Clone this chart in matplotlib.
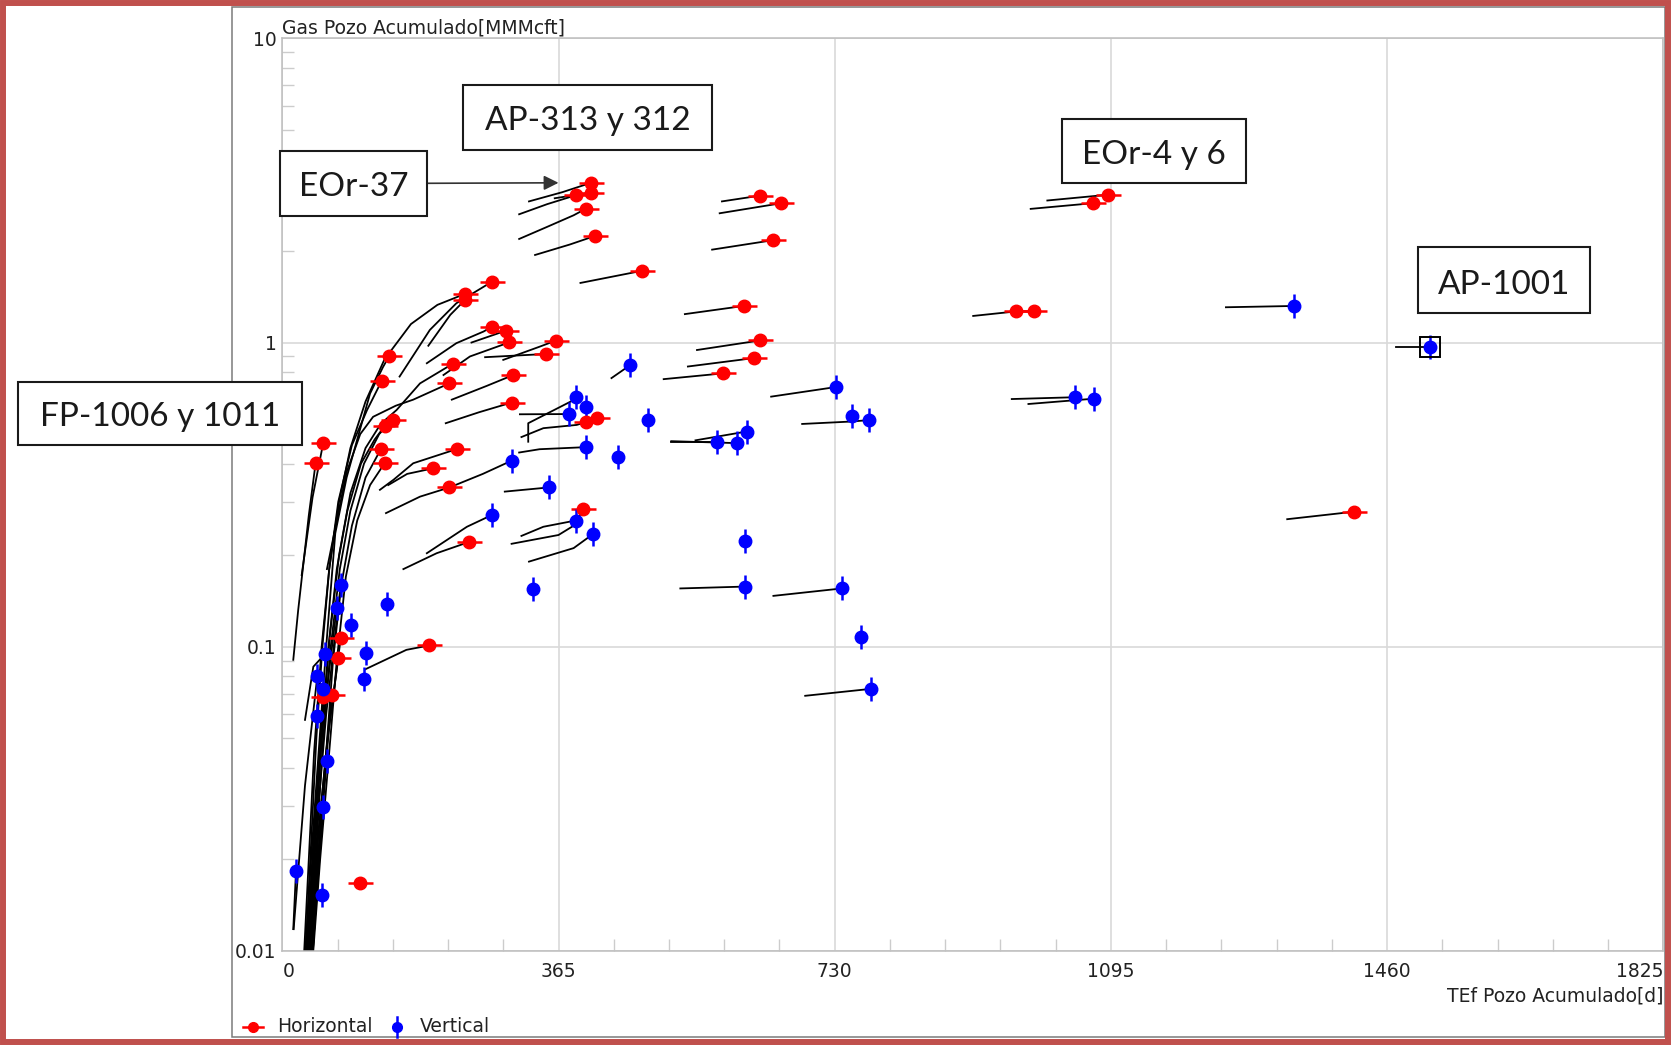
import matplotlib
matplotlib.use('Agg')
import matplotlib.pyplot as plt
from matplotlib.patches import Rectangle
from matplotlib.ticker import FixedLocator, LogLocator, NullFormatter

W, H = 1671, 1045

# end points of each well: TEf Pozo Acumulado [d] vs Gas Pozo Acumulado [MMMcft]
horiz_days = [407.8, 407.8, 388.0, 400.8, 413.1, 474.8, 276.6, 241.4, 241.4, 277.4,
              295.5, 300.0, 361.6, 348.4, 141.4, 225.1, 131.3, 220.6, 305.2, 303.1,
              145.9, 135.7, 54.2, 44.1, 130.4, 135.7, 231.2, 199.5, 220.6, 246.7,
              400.8, 415.4, 397.7, 194.2, 77.2, 74.0, 54.2, 65.3, 102.7, 631.4,
              659.3, 648.6, 610.7, 631.4, 623.3, 582.9, 1091.0, 1070.7, 970.1, 992.9,
              1416.8]
horiz_gas = [3.35, 3.11, 3.05, 2.75, 2.24, 1.72, 1.576, 1.445, 1.38, 1.128,
             1.094, 1.002, 1.015, 0.917, 0.904, 0.851, 0.748, 0.734, 0.782, 0.635,
             0.557, 0.533, 0.469, 0.403, 0.447, 0.403, 0.447, 0.386, 0.334, 0.221,
             0.547, 0.564, 0.283, 0.101, 0.1065, 0.0918, 0.0686, 0.0695, 0.0167, 3.04,
             2.87, 2.17, 1.32, 1.016, 0.889, 0.792, 3.06, 2.87, 1.266, 1.266,
             0.278]

vert_days = [387.6, 400.8, 379.2, 482.7, 574.0, 400.8, 444.0, 303.1, 352.4, 277.4,
             387.6, 410.9, 330.8, 77.2, 138.7, 71.9, 90.3, 110.6, 56.4, 107.9,
             46.3, 54.2, 46.3, 58.6, 54.2, 18.1, 52.0, 459.4, 731.5, 752.3,
             775.0, 613.7, 601.0, 611.2, 611.2, 739.6, 764.8, 777.5, 1047.4, 1073.3,
             1337.6, 1517.2]
vert_gas = [0.664, 0.616, 0.582, 0.557, 0.472, 0.453, 0.420, 0.409, 0.334, 0.2714,
            0.260, 0.235, 0.155, 0.160, 0.138, 0.1345, 0.1175, 0.0957, 0.0946, 0.0782,
            0.0802, 0.0726, 0.059, 0.0422, 0.0297, 0.0183, 0.0153, 0.842, 0.714, 0.573,
            0.556, 0.510, 0.467, 0.2234, 0.1577, 0.1555, 0.1074, 0.0727, 0.661, 0.654,
            1.319, 0.969]

# history of each well (black lines)
trail_days = [
    [326, 370, 400, 407.8], [313, 350, 388], [360, 407.8], [313, 350, 385, 400.8],
    [334, 380, 413.1], [394, 474.8], [155, 195, 230, 270, 276.6],
    [27, 35, 42, 52, 62, 75, 90, 110, 135, 170, 205, 241.4], [193, 222, 241.4],
    [191, 230, 266, 277.4], [213, 248, 292, 300], [250, 295.5], [292, 340, 361.6],
    [268, 348.4], [28, 38, 48, 58, 63, 70, 85, 100, 116, 133, 141.4],
    [32, 42, 52, 63, 75, 90, 110, 130, 151, 182, 225.1],
    [29, 37, 45, 53, 62, 74, 92, 112, 131.3], [59, 85, 103, 120, 150, 173, 220.6],
    [224, 270, 305.2], [216, 260, 303.1], [34, 44, 54, 64, 76, 90, 108, 128, 145.9],
    [31, 41, 51, 61, 72, 86, 104, 122, 135.7], [25.6, 40, 54.2], [14.5, 21, 35, 44.1],
    [36, 47, 58, 67, 78, 92, 110, 130.4], [38, 50, 62, 72, 84, 99, 116, 135.7],
    [129, 147, 173, 231.2], [140, 165, 199.5], [160, 204, 246.7],
    [316, 345, 389, 400.8], [303, 365, 385, 397.7], [110, 164, 194.2],
    [38, 50, 62, 77.2], [36, 48, 60, 74], [30, 40, 54.2], [34, 46, 65.3],
    [581, 631.4], [578, 659.3], [568, 648.6], [532, 610.7], [548, 631.4], [536, 623.3],
    [504, 582.9], [1011, 1091], [989, 1070.7], [913, 970.1, 992.9], [1328, 1416.8],
    [325, 325, 385, 387.6], [314, 379.2], [313, 340, 400.8], [137, 182, 221, 265, 303.1],
    [294, 352.4], [191, 244, 277.4], [316, 345, 387.6], [326, 385, 410.9], [435, 459.4],
    [646, 731.5], [687, 752.3, 775], [514, 574], [514, 601], [546, 613.7], [526, 611.2],
    [649, 739.6], [691, 777.5], [964, 1047.4], [986, 1073.3], [1247, 1337.6],
    [1472, 1517.2], [14.5, 18.1], [33, 45, 58, 77.2], [30, 42, 55, 71.9],
    [30, 41, 56.4], [15, 30, 46.3], [38, 48, 58.6], [37, 54.2],
]
trail_gas = [
    [2.91, 3.12, 3.30, 3.35], [2.64, 2.85, 3.05], [2.98, 3.11], [2.19, 2.40, 2.62, 2.75],
    [1.94, 2.10, 2.24], [1.57, 1.72], [0.773, 1.10, 1.346, 1.546, 1.576],
    [0.008, 0.02, 0.045, 0.10, 0.18, 0.30, 0.45, 0.64, 0.88, 1.15, 1.33, 1.445],
    [0.976, 1.233, 1.38],
    [0.855, 0.995, 1.087, 1.128], [0.782, 0.90, 0.985, 1.002], [1.0, 1.094], [0.877, 0.969, 1.015],
    [0.895, 0.917], [0.008, 0.02, 0.045, 0.10, 0.143, 0.236, 0.36, 0.49, 0.68, 0.83, 0.904],
    [0.008, 0.02, 0.05, 0.11, 0.20, 0.32, 0.45, 0.54, 0.60, 0.734, 0.851],
    [0.008, 0.02, 0.05, 0.10, 0.18, 0.30, 0.46, 0.60, 0.748],
    [0.18, 0.375, 0.50, 0.57, 0.62, 0.649, 0.734],
    [0.649, 0.72, 0.782], [0.543, 0.59, 0.635], [0.008, 0.02, 0.05, 0.10, 0.18, 0.28, 0.40, 0.50, 0.557],
    [0.008, 0.02, 0.048, 0.10, 0.18, 0.28, 0.40, 0.48, 0.533], [0.172, 0.31, 0.469],
    [0.0906, 0.132, 0.27, 0.403],
    [0.008, 0.02, 0.045, 0.09, 0.16, 0.25, 0.36, 0.447], [0.008, 0.02, 0.045, 0.09, 0.17, 0.26, 0.34, 0.403],
    [0.328, 0.354, 0.401, 0.447], [0.34, 0.37, 0.386], [0.18, 0.203, 0.221],
    [0.489, 0.523, 0.536, 0.547], [0.218, 0.233, 0.25, 0.283], [0.0844, 0.0977, 0.101],
    [0.008, 0.025, 0.055, 0.1065], [0.008, 0.025, 0.05, 0.0918], [0.008, 0.02, 0.0686],
    [0.008, 0.022, 0.0695],
    [2.91, 3.04], [2.66, 2.87], [2.02, 2.17], [1.24, 1.32], [0.945, 1.016], [0.834, 0.889],
    [0.758, 0.792], [2.93, 3.06], [2.75, 2.87], [1.223, 1.266, 1.266], [0.2626, 0.278],
    [0.472, 0.543, 0.647, 0.664], [0.581, 0.582], [0.435, 0.446, 0.453],
    [0.275, 0.3115, 0.334, 0.37, 0.409],
    [0.3236, 0.334], [0.203, 0.248, 0.2714], [0.2314, 0.248, 0.26], [0.1905, 0.211, 0.235],
    [0.764, 0.842],
    [0.664, 0.714], [0.54, 0.55, 0.556], [0.472, 0.472], [0.474, 0.467], [0.477, 0.51],
    [0.1555, 0.1577],
    [0.147, 0.1555], [0.069, 0.0727], [0.652, 0.661], [0.628, 0.654], [1.306, 1.319],
    [0.969, 0.969], [0.0118, 0.0183], [0.008, 0.025, 0.06, 0.16], [0.008, 0.025, 0.06, 0.1345],
    [0.0575, 0.086, 0.0946], [0.0118, 0.035, 0.0802], [0.008, 0.02, 0.0422], [0.008, 0.0297],
]

xtick_vals = [0, 365, 730, 1095, 1460, 1825]
ytick_vals = [0.01, 0.1, 1, 10]
ytick_labels = ['0.01', '0.1', '1', '10']
highlight = len(vert_days) - 1   # AP-1001

# callout boxes (pixel layout: x0, y0, x1, y1)
callouts = [
    ('FP-1006 y 1011', 18, 382, 302, 445),
    ('EOr-37', 280, 151, 427, 216),
    ('AP-313 y 312', 463, 85, 712, 150),
    ('EOr-4 y 6', 1062, 119, 1246, 183),
    ('AP-1001', 1418, 247, 1590, 313),
]

plt.rcParams['font.family'] = 'DejaVu Sans'
txt = '#222222'

fig = plt.figure(figsize=(W / 100, H / 100), dpi=100)
ax = fig.add_axes([282.3 / W, (H - 951) / H, (1663.3 - 282.3) / W, (951 - 38.3) / H])
ax.set_yscale('log')
ax.set_xlim(0, 1825)
ax.set_ylim(0.01, 10)

for d, g in zip(trail_days, trail_gas):
    ax.plot(d, g, color='black', lw=1.3, zorder=2)

ax.plot(horiz_days, horiz_gas, ls='none', marker='_', ms=18, mew=1.8, color='red', zorder=3)
ax.plot(horiz_days, horiz_gas, ls='none', marker='o', ms=9, color='red', zorder=4)
ax.plot(vert_days, vert_gas, ls='none', marker='|', ms=17, mew=1.8, color='blue', zorder=3)
ax.plot(vert_days, vert_gas, ls='none', marker='o', ms=9, color='blue', zorder=4)
ax.plot(vert_days[highlight], vert_gas[highlight], marker='s', ms=14.4, mfc='none',
        mec='black', mew=1.4, zorder=5)

ax.xaxis.set_major_locator(FixedLocator(xtick_vals))
ax.set_xticklabels([str(v) for v in xtick_vals])
ax.xaxis.set_minor_locator(FixedLocator([m for m in range(73, 1825, 73) if m % 365]))
ax.yaxis.set_major_locator(FixedLocator(ytick_vals))
ax.set_yticklabels(ytick_labels)
ax.yaxis.set_minor_locator(LogLocator(base=10, subs=range(2, 10)))
ax.yaxis.set_minor_formatter(NullFormatter())
ax.tick_params(which='major', length=0, labelsize=13.5, labelcolor=txt)
ax.tick_params(axis='x', which='major', pad=8)
ax.tick_params(axis='y', which='major', pad=4)
ax.tick_params(which='minor', direction='in', length=8.5, width=1, color='#cccccc')
labs = ax.get_xticklabels()
labs[0].set_ha('left')
labs[-1].set_ha('right')
ax.grid(True, which='major', color='#d9d9d9', lw=1.2)
for s in ax.spines.values():
    s.set_color('#bdbdbd')
    s.set_linewidth(1.1)

ax.annotate('Gas Pozo Acumulado[MMMcft]', xy=(0, 1), xycoords='axes fraction',
            xytext=(0, 5), textcoords='offset pixels', ha='left', va='baseline',
            fontsize=13.5, color=txt)
ax.annotate('TEf Pozo Acumulado[d]', xy=(1, 0), xycoords='axes fraction',
            xytext=(0, -51), textcoords='offset pixels', ha='right', va='baseline',
            fontsize=13.5, color=txt)

# overlay in pixel units for frame, callouts and legend
ov = fig.add_axes([0, 0, 1, 1], zorder=10)
ov.set_xlim(0, W)
ov.set_ylim(H, 0)
ov.axis('off')
ov.patch.set_alpha(0)
ov.add_patch(Rectangle((232, 7), 1665 - 232, 1037 - 7, fill=False, ec='#7a7a7a', lw=1.1))
ov.add_patch(Rectangle((3, 3), W - 6, H - 6, fill=False, ec='#C0504D', lw=4.3))

for label, x0, y0, x1, y1 in callouts:
    ov.add_patch(Rectangle((x0, y0), x1 - x0, y1 - y0, fc='white', ec='#1a1a1a', lw=1.5))
    ov.text((x0 + x1) / 2, y1 - 19.5, label, ha='center', va='baseline',
            fontsize=24, family='Lato', color='#1a1a1a')

ax.annotate('', xy=(365, 3.35), xycoords='data', xytext=(427, 183.3),
            textcoords=ov.transData,
            arrowprops=dict(arrowstyle='-|>', color='#333333', lw=1.2,
                            mutation_scale=22, shrinkA=0, shrinkB=0))

# legend
ov.plot([243, 263], [1026.7, 1026.7], color='red', lw=1.8)
ov.plot([253.3], [1026.7], marker='o', ms=7, color='red')
ov.text(277, 1027, 'Horizontal', va='center', ha='left', fontsize=13.5, color=txt)
ov.plot([397.3, 397.3], [1016.7, 1036.7], color='blue', lw=1.8)
ov.plot([397.3], [1026.7], marker='o', ms=7, color='blue')
ov.text(420, 1027, 'Vertical', va='center', ha='left', fontsize=13.5, color=txt)

fig.savefig('out.png', dpi=100, facecolor='white')
